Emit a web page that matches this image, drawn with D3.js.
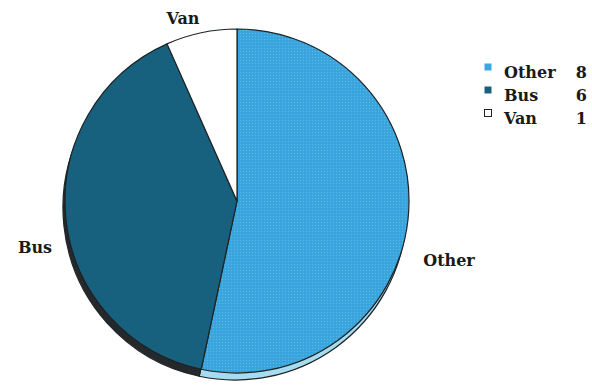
<!DOCTYPE html>
<html>
<head>
<meta charset="utf-8">
<script src="https://cdn.jsdelivr.net/npm/d3@7"></script>
<style>
  html, body { margin: 0; padding: 0; background: #fff; }
  svg { display: block; }
</style>
</head>
<body>
<svg id="chart" width="592" height="390"></svg>
<script>
// Vehicle types and counts
const categories = ["Other", "Bus", "Van"];
const values = [8, 6, 1];
const topColors = ["#3ba7de", "#17617e", "#ffffff"];
const sideColors = ["#a6dbf0", "#26292b", "#e8e8e8"];
const FONT = "'DejaVu Serif', 'Liberation Serif', 'Times New Roman', serif";

const svg = d3.select("#chart");
const cx = 237, cy = 201, r = 172, depth = 7;

const data = categories.map((c, i) => ({ name: c, value: values[i], i }));
const pie = d3.pie().sort(null).value(d => d.value);
const arcs = pie(data);
const arc = d3.arc().innerRadius(0).outerRadius(r);

// fine dotted texture on the "Other" slice
const defs = svg.append("defs");
const pat = defs.append("pattern").attr("id", "dots")
  .attr("width", 3).attr("height", 3).attr("patternUnits", "userSpaceOnUse");
pat.append("rect").attr("width", 3).attr("height", 3).attr("fill", topColors[0]);
pat.append("rect").attr("width", 1).attr("height", 1).attr("fill", "#5bb8e6");
pat.append("rect").attr("x", 1.5).attr("y", 1.5).attr("width", 1).attr("height", 1).attr("fill", "#2f9bd2");

// pie side (3D thickness)
const sideG = svg.append("g").attr("transform", `translate(${cx - 2},${cy + depth})`);
sideG.selectAll("path").data(arcs).join("path")
  .attr("d", arc)
  .attr("fill", d => sideColors[d.data.i])
  .attr("stroke", "#1c2226").attr("stroke-width", 1.2);

// pie top face
const faceG = svg.append("g").attr("transform", `translate(${cx},${cy})`);
faceG.selectAll("path").data(arcs).join("path")
  .attr("d", arc)
  .attr("fill", d => d.data.i === 0 ? "url(#dots)" : topColors[d.data.i])
  .attr("stroke", "#1c2226").attr("stroke-width", 1.2)
  .attr("stroke-linejoin", "round");

function styleText(sel) {
  return sel.attr("font-family", FONT).attr("font-weight", "bold")
    .attr("font-size", 16).attr("fill", "#1a1a1a");
}

// slice labels
const labelPos = { Other: [449, 266], Bus: [35, 253], Van: [183, 24] };
styleText(svg.selectAll("text.slice").data(arcs).join("text")
  .attr("class", "slice")
  .attr("x", d => labelPos[d.data.name][0])
  .attr("y", d => labelPos[d.data.name][1])
  .attr("text-anchor", "middle")
  .text(d => d.data.name));

// legend
const legend = svg.append("g").attr("transform", "translate(484,78)");
const rows = legend.selectAll("g").data(data).join("g")
  .attr("transform", (d, i) => `translate(0,${i * 23})`);
rows.append("rect")
  .attr("x", 0.5).attr("y", -14.5).attr("width", 7).attr("height", 7)
  .attr("fill", d => topColors[d.i])
  .attr("stroke", d => d.i === 2 ? "#222" : "none");
styleText(rows.append("text").attr("x", 20).attr("y", 0).text(d => d.name));
styleText(rows.append("text").attr("x", 103).attr("y", 0)
  .attr("text-anchor", "end").text(d => d.value));
</script>
</body>
</html>
